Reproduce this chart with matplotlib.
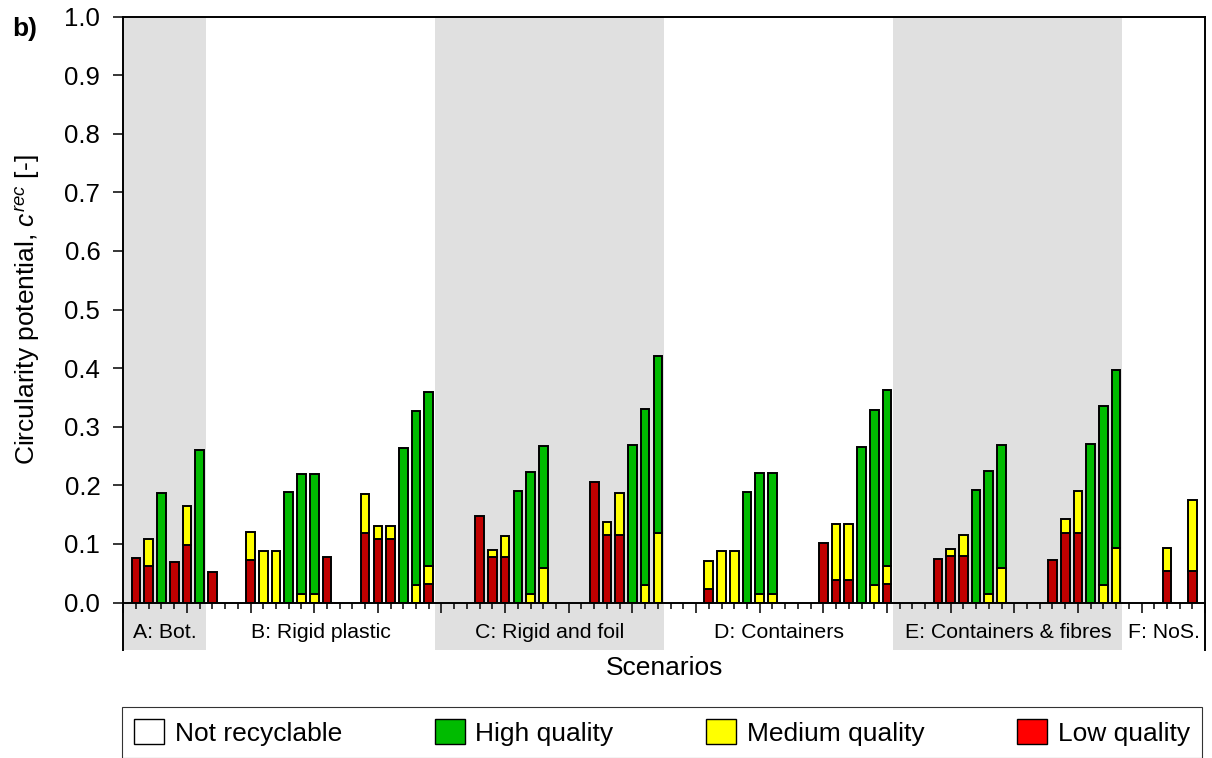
import numpy as np
import matplotlib
matplotlib.use("Agg")
import matplotlib.pyplot as plt
from matplotlib.patches import Patch
from matplotlib.ticker import MultipleLocator

plt.rcParams['font.family'] = ['Liberation Sans', 'DejaVu Sans']
plt.rcParams['mathtext.fontset'] = 'custom'
plt.rcParams['mathtext.rm'] = 'Liberation Sans'
plt.rcParams['mathtext.it'] = 'Liberation Sans:italic'

# bar slots along the x axis
positions = [1, 2, 3, 4, 5, 6, 7,
             10, 11, 12, 13, 14, 15, 16,
             19, 20, 21, 22, 23, 24,
             28, 29, 30, 31, 32, 33,
             37, 38, 39, 40, 41, 42,
             46, 47, 48, 49, 50, 51,
             55, 56, 57, 58, 59, 60,
             64, 65, 66, 67, 68, 69,
             73, 74, 75, 76, 77, 78,
             82, 84]

# stacked segment heights (low at bottom, medium, high on top)
low_q = [0.076, 0.063, 0, 0.069, 0.098, 0, 0.052,
         0.073, 0, 0, 0, 0, 0, 0.078,
         0.118, 0.109, 0.109, 0, 0, 0.032,
         0.148, 0.078, 0.078, 0, 0, 0,
         0.206, 0.115, 0.115, 0, 0, 0,
         0.023, 0, 0, 0, 0, 0,
         0.102, 0.038, 0.038, 0, 0, 0.032,
         0.075, 0.080, 0.080, 0, 0, 0,
         0.073, 0.119, 0.119, 0, 0, 0,
         0.054, 0.054]
medium_q = [0, 0.046, 0, 0, 0.066, 0, 0,
            0.047, 0.088, 0.088, 0, 0.015, 0.015, 0,
            0.068, 0.022, 0.022, 0, 0.030, 0.031,
            0, 0.012, 0.036, 0, 0.015, 0.059,
            0, 0.023, 0.072, 0, 0.030, 0.119,
            0.048, 0.088, 0.088, 0, 0.015, 0.015,
            0, 0.096, 0.096, 0, 0.030, 0.031,
            0, 0.011, 0.036, 0, 0.015, 0.059,
            0, 0.023, 0.072, 0, 0.030, 0.093,
            0.039, 0.121]
high_q = [0, 0, 0.187, 0, 0, 0.261, 0,
          0, 0, 0, 0.189, 0.205, 0.205, 0,
          0, 0, 0, 0.263, 0.297, 0.297,
          0, 0, 0, 0.191, 0.208, 0.208,
          0, 0, 0, 0.269, 0.301, 0.301,
          0, 0, 0, 0.189, 0.206, 0.206,
          0, 0, 0, 0.265, 0.299, 0.299,
          0, 0, 0, 0.192, 0.209, 0.210,
          0, 0, 0, 0.271, 0.305, 0.304,
          0, 0]

scenario_labels = ['A: Bot.', 'B: Rigid plastic', 'C: Rigid and foil',
                   'D: Containers', 'E: Containers & fibres', 'F: NoS.']
scenario_edges = [0, 6.5, 24.5, 42.5, 60.5, 78.5, 85]

c_low = '#C00000'
c_med = '#FFFF00'
c_high = '#00BB00'
c_shade = '#E0E0E0'

fig = plt.figure(figsize=(12.12, 7.58), dpi=100)
ax = fig.add_axes([0.1017, 0.2051, 0.8927, 0.7731])
band = fig.add_axes([0.1017, 0.14248, 0.8927, 0.06266])
ax.set_zorder(3)

pos = np.array(positions, dtype=float)
low = np.array(low_q)
med = np.array(medium_q)
high = np.array(high_q)

# shaded scenario bands (every other one)
for i in range(0, len(scenario_labels), 2):
    ax.axvspan(scenario_edges[i], scenario_edges[i + 1], color=c_shade, lw=0, zorder=0)
    band.axvspan(scenario_edges[i], scenario_edges[i + 1], color=c_shade, lw=0, zorder=0)

w = 0.68
bottom = np.zeros(len(pos))
for vals, col in [(low, c_low), (med, c_med), (high, c_high)]:
    m = vals > 0
    ax.bar(pos[m], vals[m], width=w, bottom=bottom[m], color=col,
           edgecolor='black', linewidth=1.4, zorder=2)
    bottom = bottom + vals

ax.set_xlim(0, 85)
ax.set_ylim(0, 1.0)
ax.xaxis.set_major_locator(MultipleLocator(5))
ax.xaxis.set_minor_locator(MultipleLocator(1))
ax.set_xticklabels([])
ax.set_yticks(np.arange(0, 1.01, 0.1))
ax.set_yticklabels([f'{v:.1f}' for v in np.arange(0, 1.01, 0.1)], fontsize=18.5)
ax.tick_params(axis='x', which='major', direction='out', length=7.5, width=1.1)
ax.tick_params(axis='x', which='minor', direction='out', length=4, width=1.1)
ax.tick_params(axis='y', direction='out', length=7.5, width=1.1, pad=9)
for s in ax.spines.values():
    s.set_linewidth(1.4)

band.set_xlim(0, 85)
band.set_ylim(0, 1)
band.set_xticks([])
band.set_yticks([])
band.spines['top'].set_visible(False)
band.spines['bottom'].set_visible(False)
band.spines['left'].set_linewidth(1.4)
band.spines['right'].set_linewidth(1.4)
for i, lab in enumerate(scenario_labels):
    xc = (scenario_edges[i] + scenario_edges[i + 1]) / 2
    band.text(xc, 0.25, lab, ha='center', va='baseline', fontsize=15.3)

fig.text(28 / 1212, 0.5917, 'Circularity potential, $c^{rec}$ [-]', rotation=90,
         ha='center', va='center', fontsize=19)
fig.text(0.1017 + 0.8927 / 2, (758 - 675) / 758, 'Scenarios', ha='center',
         va='baseline', fontsize=19)
fig.text(12 / 1212, (758 - 36) / 758, 'b)', fontsize=19, fontweight='bold',
         ha='left', va='baseline')

handles = [Patch(facecolor='white', edgecolor='black', label='Not recyclable'),
           Patch(facecolor=c_high, edgecolor='black', label='High quality'),
           Patch(facecolor=c_med, edgecolor='black', label='Medium quality'),
           Patch(facecolor='#FF0000', edgecolor='black', label='Low quality')]
leg = fig.legend(handles=handles, ncol=4, loc='lower left', mode='expand',
                 bbox_to_anchor=(122 / 1212, 0.5 / 758, 1080 / 1212, 56 / 758),
                 borderaxespad=0, fontsize=19, frameon=True, fancybox=False,
                 handlelength=1.15, handleheight=1.1, handletextpad=0.4,
                 borderpad=0.45)
leg.get_frame().set_edgecolor('black')
leg.get_frame().set_linewidth(0.8)

fig.savefig('out.png', dpi=100)
